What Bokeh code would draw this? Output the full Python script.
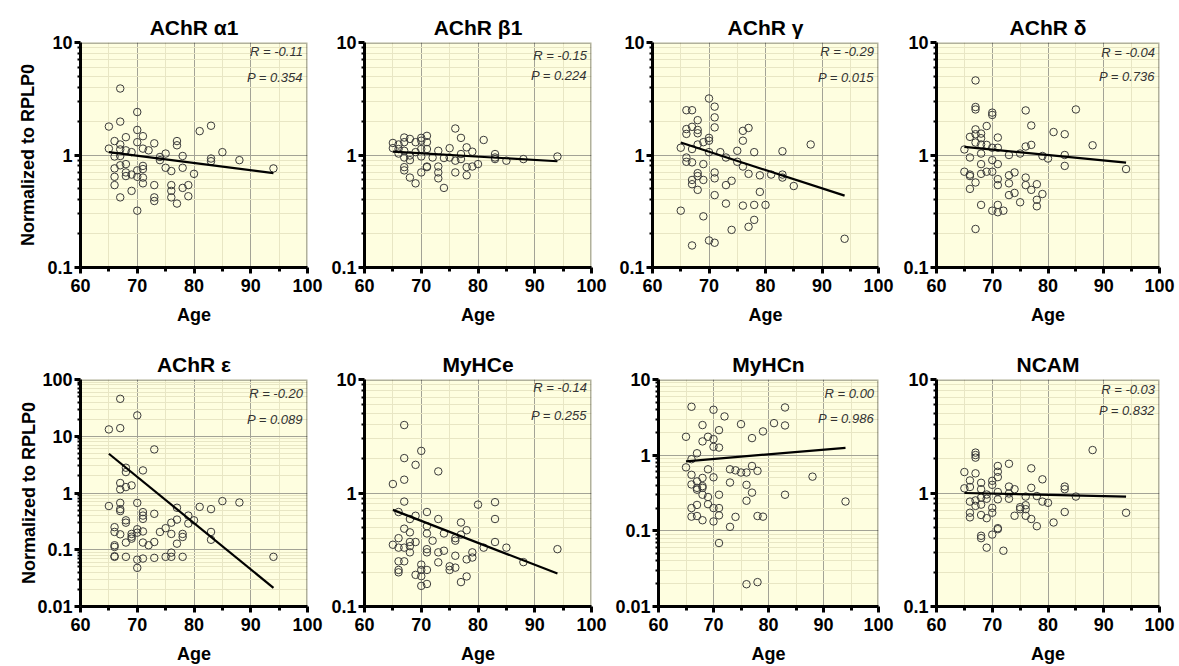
from bokeh.plotting import figure
from bokeh.layouts import row, column
from bokeh.models import FixedTicker, CustomJSTickFormatter, Label, BoxAnnotation
from bokeh.embed import file_html
from bokeh.resources import INLINE

# ---------------- data ----------------
titles = ["AChR α1", "AChR β1", "AChR γ", "AChR δ", "AChR ε", "MyHCe", "MyHCn", "NCAM"]
r_texts = ["R = -0.11", "R = -0.15", "R = -0.29", "R = -0.04", "R = -0.20", "R = -0.14", "R = 0.00", "R = -0.03"]
p_texts = ["P = 0.354", "P = 0.224", "P = 0.015", "P = 0.736", "P = 0.089", "P = 0.255", "P = 0.986", "P = 0.832"]

x_ticks = [60, 70, 80, 90, 100]
x_minor = [65, 75, 85, 95]
fit_age = [65, 94]

a1_age = [65, 67, 70, 67, 65, 66, 67, 68, 67, 68, 69, 66, 67, 70, 71, 70, 71, 72, 73, 66,
          67, 68, 66, 66, 67, 68, 68, 69, 69, 70, 70, 70, 71, 71, 71, 71, 73, 73, 73, 74,
          74, 75, 75, 76, 76, 76, 76, 77, 77, 77, 78, 78, 78, 79, 79, 80, 81, 83, 83, 83,
          85, 88, 94]
a1_val = [1.79, 3.9, 2.41, 1.98, 1.14, 1.33, 1.24, 1.44, 1.12, 1.1, 1.06, 0.97, 0.98, 1.67, 1.47, 1.3, 1.14, 1.1, 1.27, 0.76,
          0.81, 0.83, 0.64, 0.54, 0.42, 0.70, 0.65, 0.67, 0.48, 0.32, 0.73, 0.64, 0.80, 0.75, 0.63, 0.56, 0.54, 0.42, 0.39, 0.9,
          0.96, 1.03, 0.77, 0.72, 0.54, 0.48, 0.42, 1.33, 1.22, 0.37, 0.98, 0.77, 0.51, 0.54, 0.43, 0.68, 1.63, 1.82, 0.93, 0.88,
          1.06, 0.9, 0.76]
a1_fit = [1.06, 0.69]

b1_age = [65, 65, 66, 66, 66, 67, 67, 67, 67, 67, 67, 68, 68, 68, 68, 69, 69, 69, 70, 70,
          70, 70, 70, 71, 71, 71, 71, 71, 72, 73, 73, 73, 73, 74, 74, 75, 75, 76, 76, 76,
          77, 77, 77, 78, 78, 78, 79, 79, 80, 81, 83, 83, 83, 85, 88, 94]
b1_val = [1.28, 1.15, 1.24, 1.13, 1.03, 1.43, 1.30, 1.09, 0.95, 0.78, 0.73, 1.39, 0.99, 0.90, 0.63, 1.30, 1.06, 0.56, 1.42, 1.34,
          1.13, 0.97, 0.70, 1.48, 1.30, 1.13, 0.79, 0.78, 0.95, 1.09, 0.79, 0.70, 0.62, 0.94, 0.51, 1.15, 0.95, 1.72, 0.89, 0.70,
          1.42, 1.02, 0.92, 1.17, 0.78, 0.66, 1.07, 0.79, 0.83, 1.36, 1.02, 0.95, 0.92, 0.89, 0.92, 0.97]
b1_fit = [1.07, 0.88]

g_age = [65, 65, 66, 66, 66, 66, 66, 67, 67, 67, 67, 67, 67, 67, 68, 68, 68, 68, 68, 68,
         68, 69, 69, 69, 69, 70, 70, 70, 70, 70, 71, 71, 71, 71, 71, 71, 71, 72, 73, 73,
         73, 74, 74, 75, 75, 76, 76, 76, 76, 77, 77, 77, 78, 78, 78, 79, 79, 80, 81, 83,
         83, 83, 85, 88, 94]
g_val = [0.32, 1.16, 2.5, 1.70, 1.54, 0.95, 0.87, 2.5, 1.78, 1.13, 0.86, 0.60, 0.55, 0.157, 2.04, 1.67, 1.56, 1.24, 0.69, 0.65,
         0.49, 1.30, 0.83, 0.60, 0.285, 3.18, 1.42, 1.34, 1.06, 0.174, 2.69, 2.16, 1.76, 0.70, 0.62, 0.44, 0.166, 1.06, 0.95, 0.54,
         0.37, 0.59, 0.216, 1.09, 0.87, 1.64, 1.34, 0.79, 0.355, 1.74, 0.68, 0.23, 1.06, 0.36, 0.265, 0.66, 0.47, 0.36, 0.67, 1.08,
         0.67, 0.63, 0.53, 1.24, 0.18]
g_fit = [1.29, 0.435]

d_age = [65, 65, 66, 66, 66, 66, 66, 67, 67, 67, 67, 67, 67, 67, 67, 68, 68, 68, 68, 68,
         68, 68, 69, 69, 69, 70, 70, 70, 70, 70, 70, 71, 71, 71, 71, 71, 71, 71, 72, 73,
         73, 73, 73, 74, 74, 75, 75, 76, 76, 76, 76, 77, 77, 77, 78, 78, 78, 79, 79, 80,
         81, 83, 83, 83, 85, 88, 94]
d_val = [1.12, 0.71, 1.45, 0.95, 0.67, 0.65, 0.50, 4.6, 2.67, 2.54, 1.69, 1.53, 1.29, 0.57, 0.22, 1.55, 1.41, 1.24, 1.03, 0.83,
         0.68, 0.36, 1.81, 1.23, 0.71, 2.38, 2.27, 1.16, 0.90, 0.71, 0.32, 1.43, 1.16, 0.83, 0.61, 0.54, 0.36, 0.31, 0.32, 1.0,
         0.66, 0.56, 0.44, 0.70, 0.46, 1.03, 0.38, 2.49, 1.19, 0.63, 0.54, 1.83, 1.23, 0.49, 0.55, 0.40, 0.35, 0.98, 0.45, 0.93,
         1.60, 1.53, 1.0, 0.80, 2.54, 1.22, 0.75]
d_fit = [1.18, 0.855]

e_age = [65, 65, 66, 66, 66, 66, 66, 66, 67, 67, 67, 67, 67, 67, 67, 67, 68, 68, 68, 68,
         68, 68, 68, 69, 69, 69, 69, 70, 70, 70, 70, 70, 70, 71, 71, 71, 71, 71, 71, 71,
         72, 73, 73, 73, 73, 74, 75, 75, 76, 76, 76, 76, 77, 77, 77, 78, 78, 78, 79, 79,
         80, 81, 83, 83, 83, 85, 88, 94]
e_val = [13.2, 0.59, 0.25, 0.206, 0.12, 0.112, 0.077, 0.075, 45.7, 13.9, 1.5, 1.16, 0.67, 0.52, 0.48, 0.187, 2.79, 2.34, 1.27, 0.33,
         0.30, 0.134, 0.075, 1.36, 0.19, 0.17, 0.157, 23.3, 0.67, 0.23, 0.20, 0.067, 0.048, 2.5, 0.46, 0.40, 0.35, 0.21, 0.134, 0.07,
         0.12, 5.86, 0.43, 0.137, 0.072, 0.206, 0.24, 0.075, 0.30, 0.19, 0.089, 0.075, 0.55, 0.34, 0.128, 0.19, 0.168, 0.075, 0.40, 0.29,
         0.33, 0.57, 0.52, 0.206, 0.15, 0.72, 0.68, 0.075]
e_fit = [4.92, 0.0213]

mye_age = [65, 65, 66, 66, 66, 66, 66, 66, 67, 67, 67, 67, 67, 67, 67, 68, 68, 68, 68, 68,
           69, 69, 69, 69, 70, 70, 70, 70, 70, 71, 71, 71, 71, 71, 71, 71, 72, 73, 73, 73,
           73, 74, 74, 75, 75, 76, 76, 76, 76, 77, 77, 77, 78, 78, 78, 79, 79, 80, 81, 83,
           83, 83, 85, 88, 94]
mye_val = [1.20, 0.35, 0.68, 0.40, 0.33, 0.25, 0.21, 0.20, 3.97, 2.03, 1.31, 0.84, 0.485, 0.33, 0.25, 0.59, 0.45, 0.37, 0.34, 0.30,
           1.77, 0.63, 0.37, 0.19, 2.35, 0.234, 0.21, 0.185, 0.152, 0.68, 0.51, 0.44, 0.32, 0.30, 0.21, 0.158, 0.38, 1.55, 0.59, 0.30,
           0.245, 0.44, 0.31, 0.226, 0.21, 0.40, 0.38, 0.28, 0.22, 0.55, 0.43, 0.164, 0.47, 0.26, 0.184, 0.30, 0.27, 0.79, 0.33, 0.83,
           0.59, 0.37, 0.33, 0.246, 0.32]
mye_fit = [0.71, 0.195]

myn_age = [65, 65, 66, 66, 66, 66, 66, 66, 67, 67, 67, 67, 67, 67, 68, 68, 68, 68, 68, 68,
           68, 69, 69, 69, 69, 70, 70, 70, 70, 70, 70, 71, 71, 71, 71, 71, 71, 72, 73, 73,
           73, 74, 74, 75, 75, 76, 76, 76, 76, 77, 77, 77, 78, 78, 78, 79, 79, 81, 83, 83,
           83, 88, 94]
myn_val = [1.75, 0.69, 4.36, 0.885, 0.55, 0.41, 0.20, 0.154, 1.06, 0.45, 0.37, 0.35, 0.22, 0.157, 2.5, 1.52, 0.50, 0.39, 0.37, 0.30,
           0.138, 1.75, 0.65, 0.28, 0.225, 3.98, 1.63, 1.29, 0.51, 0.20, 0.133, 2.14, 1.26, 0.30, 0.20, 0.16, 0.069, 3.25, 0.65, 0.435,
           0.113, 0.63, 0.153, 2.57, 0.59, 0.59, 0.405, 0.25, 0.0197, 1.68, 0.72, 0.32, 0.62, 0.157, 0.021, 2.06, 0.154, 2.65, 4.27, 2.47,
           0.30, 0.52, 0.244]
myn_fit = [0.83, 1.25]

ncam_age = [65, 65, 66, 66, 66, 66, 66, 67, 67, 67, 67, 67, 67, 68, 68, 68, 68, 68, 68, 68,
            69, 69, 69, 69, 70, 70, 70, 70, 70, 71, 71, 71, 71, 71, 71, 71, 72, 73, 73, 73,
            73, 74, 74, 75, 75, 76, 76, 76, 76, 77, 77, 77, 78, 78, 79, 79, 80, 81, 83, 83,
            83, 85, 88, 94]
ncam_val = [1.53, 1.10, 1.29, 1.13, 0.84, 0.67, 0.61, 2.27, 2.16, 2.05, 1.49, 0.86, 0.77, 1.23, 1.08, 0.91, 0.79, 0.64, 0.42, 0.40,
            0.97, 0.89, 0.60, 0.33, 1.28, 1.18, 0.74, 0.67, 0.43, 1.73, 1.54, 1.38, 1.02, 0.88, 0.49, 0.48, 0.31, 1.81, 1.14, 0.99,
            0.89, 1.08, 0.63, 0.75, 0.72, 0.93, 0.78, 0.72, 0.63, 1.65, 1.11, 0.59, 0.94, 0.51, 1.32, 0.84, 0.82, 0.55, 1.14, 1.08,
            0.68, 0.93, 2.39, 0.67]
ncam_fit = [1.0, 0.93]

y_ranges = [(0.1, 10), (0.1, 10), (0.1, 10), (0.1, 10), (0.01, 100), (0.1, 10), (0.01, 10), (0.1, 10)]

ages = [a1_age, b1_age, g_age, d_age, e_age, mye_age, myn_age, ncam_age]
vals = [a1_val, b1_val, g_val, d_val, e_val, mye_val, myn_val, ncam_val]
fits = [a1_fit, b1_fit, g_fit, d_fit, e_fit, mye_fit, myn_fit, ncam_fit]

# ---------------- layout (pixels) ----------------
cols = [(80, 227, 21), (36, 227, 21), (40, 226, 22), (33, 226, 20)]
rows_dims = [(42, 225, 63), (49, 227, 60)]
title_standoff = [8, 7]
ylabel_standoff = [6, -5]
r_off = [[9, 13, 9, 10], [14, 8, 14, 10]]
p_off = [[35, 33, 35, 34], [40, 36, 39, 31]]

FONT = "Liberation Sans"
BG = "#fefee0"


def decades(lo, hi):
    out = []
    e = lo
    while e <= hi * 1.0001:
        out.append(e)
        e *= 10
    return out


def make_panel(i):
    r, c = divmod(i, 4)
    lb, fw, rb = cols[c]
    tb, fh, bb = rows_dims[r]
    ylo, yhi = y_ranges[i]
    p = figure(width=lb + fw + rb, height=tb + fh + bb, y_axis_type="log",
               x_range=(60, 100), y_range=(ylo, yhi),
               output_backend="svg", toolbar_location=None,
               min_border_left=lb, min_border_right=rb,
               min_border_top=tb, min_border_bottom=bb)
    p.background_fill_color = BG
    p.border_fill_color = "white"
    p.outline_line_color = None

    p.title.text = titles[i]
    p.title.align = "center"
    p.title.text_font = FONT
    p.title.text_font_size = "21px"
    p.title.text_font_style = "bold"
    p.title.text_color = "black"
    p.title.standoff = title_standoff[r]

    majors = decades(ylo, yhi)
    minors = [d * k for d in majors[:-1] for k in range(2, 10)]
    yt = FixedTicker(ticks=majors, minor_ticks=minors)
    xt = FixedTicker(ticks=x_ticks, minor_ticks=x_minor)
    p.yaxis.ticker = yt
    p.ygrid.ticker = yt
    p.xaxis.ticker = xt
    p.xgrid.ticker = xt
    p.yaxis.formatter = CustomJSTickFormatter(code="return tick.toString();")

    for g in (p.xgrid, p.ygrid):
        g.grid_line_color = "#a3a396"
        g.grid_line_width = 1
        g.minor_grid_line_color = "#e8e6c4"
        g.minor_grid_line_width = 1

    for ax in (p.xaxis, p.yaxis):
        ax.axis_line_width = 3
        ax.axis_line_color = "black"
        ax.major_tick_line_width = 3
        ax.major_tick_line_color = "black"
        ax.major_tick_in = 0
        ax.minor_tick_line_color = "black"
        ax.minor_tick_in = 0
        ax.major_label_text_font = FONT
        ax.major_label_text_font_size = "18px"
        ax.major_label_text_font_style = "bold"
        ax.major_label_text_color = "black"
        ax.axis_label_text_font = FONT
        ax.axis_label_text_font_size = "18px"
        ax.axis_label_text_font_style = "bold"
        ax.axis_label_text_color = "black"
    p.xaxis.major_tick_out = 6
    p.xaxis.minor_tick_out = 4
    p.xaxis.minor_tick_line_width = 3
    p.xaxis.major_label_standoff = 5
    p.xaxis.axis_label = "Age"
    p.xaxis.axis_label_standoff = 10
    p.yaxis.major_tick_out = 6
    p.yaxis.minor_tick_out = 3
    p.yaxis.minor_tick_line_width = 2
    p.yaxis.major_label_standoff = 2
    if c == 0:
        p.yaxis.axis_label = "Normalized to RPLP0"
        p.yaxis.axis_label_standoff = ylabel_standoff[r]

    p.add_layout(BoxAnnotation(fill_alpha=0, line_color="black", line_width=3, level="overlay"))

    p.scatter(ages[i], vals[i], size=7.5, marker="circle", fill_color=None,
              line_color="#3a3a3a", line_width=1)
    p.line(fit_age, fits[i], line_color="black", line_width=2.2)

    ndec = len(majors) - 1
    ppd = fh / ndec
    for txt, off in ((r_texts[i], r_off[r][c]), (p_texts[i], p_off[r][c])):
        y = yhi * 10 ** (-off / ppd)
        p.add_layout(Label(x=99.2, y=y, text=txt, text_align="right", text_baseline="middle",
                           text_font=FONT, text_font_size="13px", text_font_style="italic",
                           text_color="#333333"))
    return p


panels = [make_panel(i) for i in range(8)]
layout = column(row(*panels[:4], spacing=0), row(*panels[4:], spacing=0), spacing=0)

open("out.html", "w").write(file_html(layout, INLINE))
